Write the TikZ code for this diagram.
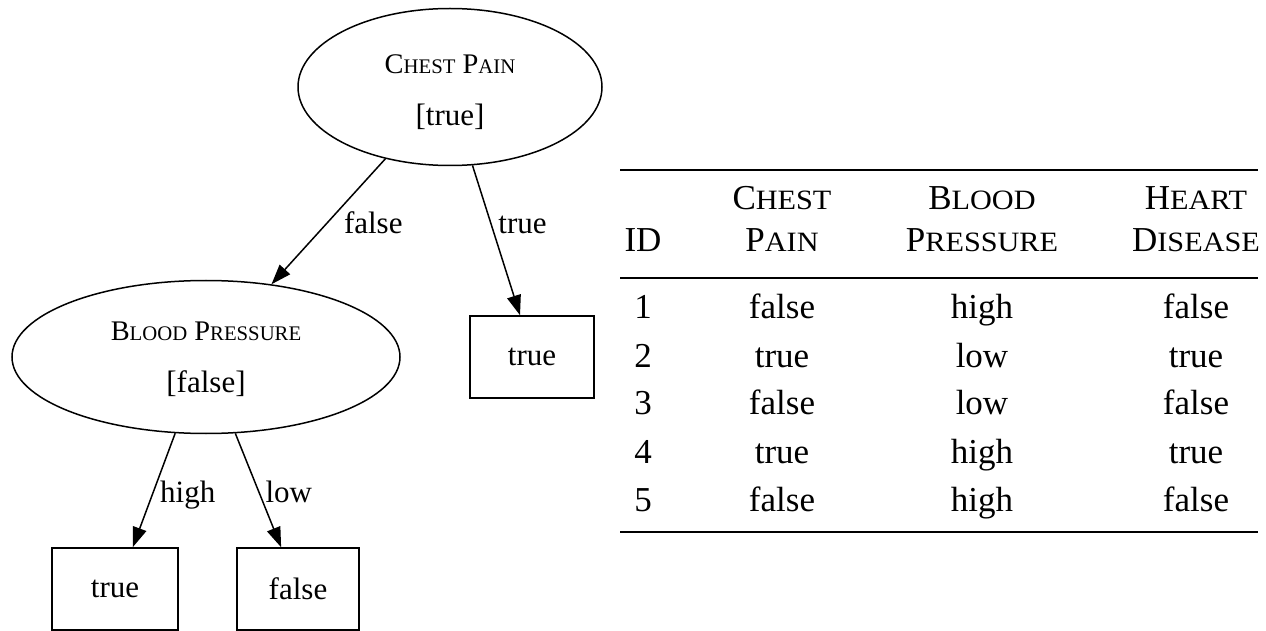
\documentclass[tikz,border=0pt]{standalone}
\usepackage{fontspec}
\setmainfont{Liberation Serif}
\newfontfamily\scf[Scale=0.8,FakeStretch=1.08]{Liberation Serif}
\newfontfamily\tscf[Scale=0.73]{Liberation Serif}
\newcommand\SC[2]{#1{\scf #2}}
\newcommand\TSC[2]{#1{\tscf #2}}
\usetikzlibrary{shapes.geometric,arrows.meta}
\begin{document}
\begin{tikzpicture}[x=0.5pt,y=-0.5pt,
  tnode/.style={font=\fontsize{15.5}{18}\selectfont, line width=0.75pt, inner sep=0pt},
  ell/.style={tnode, draw, ellipse},
  etext/.style={tnode, align=center},
  leaf/.style={tnode, draw, rectangle, minimum height=41pt},
  arr/.style={line width=0.75pt, -{Triangle[length=10pt,width=7pt]}},
  elab/.style={font=\fontsize{15.5}{18}\selectfont, inner sep=0pt, anchor=west},
  tab/.style={font=\fontsize{17.5}{20}\selectfont, inner sep=0pt, anchor=base},
  rulethick/.style={line width=1.3pt},
  rulethin/.style={line width=0.9pt}]
\useasboundingbox (0,0) rectangle (1266,631);
% tree
\node[ell, minimum width=152pt, minimum height=78.5pt] (cp) at (450,87) {};
\node[etext] (cptext) at (450,92)
  {{\fontsize{14.2}{16}\selectfont\TSC{C}{HEST} \TSC{P}{AIN}}\\[8pt][true]};
\node[ell, minimum width=194pt, minimum height=76.5pt] (bp) at (206,357) {};
\node[etext] (bptext) at (206,359)
  {{\fontsize{14.2}{16}\selectfont\TSC{B}{LOOD} \TSC{P}{RESSURE}}\\[8pt][false]};
\node[leaf, minimum width=62pt] (t1) at (532,357) {true};
\node[leaf, minimum width=63pt] (t2) at (115,589) {true};
\node[leaf, minimum width=61pt] (f2) at (298,589) {false};
\draw[arr] (cp.228.3) -- (bp.48.3) node[elab, pos=0.51, xshift=8pt] {false};
\draw[arr] (cp.286.4) -- (t1.106.3) node[elab, pos=0.384, xshift=3.5pt, yshift=-1pt] {true};
\draw[arr] (bp.248.5) -- (t2.67.5) node[elab, pos=0.513, xshift=3pt, yshift=-1.5pt] {high};
\draw[arr] (bp.291.5) -- (f2.112.5) node[elab, pos=0.513, xshift=3pt] {low};
% table
\coordinate (r1a) at (620,170); \coordinate (r1b) at (1258,170);
\coordinate (r2a) at (620,278); \coordinate (r2b) at (1258,278);
\coordinate (r3a) at (620,532); \coordinate (r3b) at (1258,532);
\draw[rulethick] (r1a) -- (r1b);
\draw[rulethin] (r2a) -- (r2b);
\draw[rulethick] (r3a) -- (r3b);
\node[tab] (h12) at (782,210) {\SC{C}{HEST}};
\node[tab] (h13) at (982,210) {\SC{B}{LOOD}};
\node[tab] (h14) at (1196,210) {\SC{H}{EART}};
\node[tab] (h21) at (643,252) {ID};
\node[tab] (h22) at (782,252) {\SC{P}{AIN}};
\node[tab] (h23) at (982,252) {\SC{P}{RESSURE}};
\node[tab] (h24) at (1196,252) {\SC{D}{ISEASE}};
\foreach \i/\a/\b/\c/\y in {1/false/high/false/319, 2/true/low/true/367, 3/false/low/false/415, 4/true/high/true/463, 5/false/high/false/511}{
  \node[tab] (id\i) at (643,\y) {\i};
  \node[tab] (cp\i) at (782,\y) {\a};
  \node[tab] (bp\i) at (982,\y) {\b};
  \node[tab] (hd\i) at (1196,\y) {\c};
}
\end{tikzpicture}
\end{document}
